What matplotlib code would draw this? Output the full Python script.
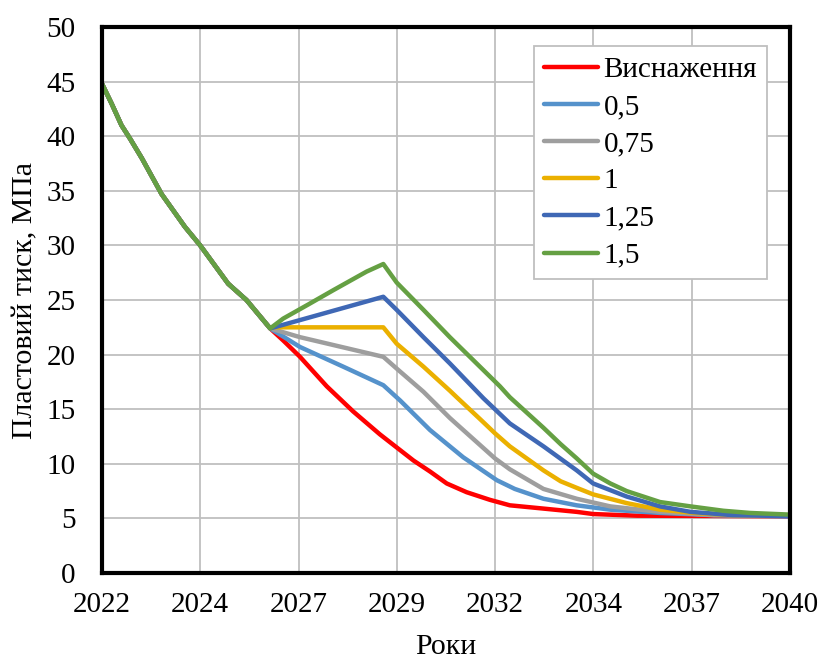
import matplotlib.pyplot as plt

plt.rcParams['font.family'] = ['Liberation Serif', 'DejaVu Serif']

# спільна ділянка (режим виснаження до початку закачування)
base_t = [2022.0, 2022.25, 2022.51, 2022.73, 2023.04, 2023.56, 2024.17, 2024.57, 2025.30, 2025.78, 2026.40]
base_p = [44.8, 43.0, 41.0, 39.8, 38.0, 34.7, 31.7, 30.0, 26.5, 25.0, 22.4]

red_t = [2026.40, 2026.74, 2027.18, 2027.88, 2028.57, 2029.27, 2029.71, 2030.15, 2030.58, 2031.02,
         2031.54, 2032.15, 2032.67, 2033.55, 2034.42, 2034.85, 2036.0, 2040.0]
red_p = [22.4, 21.3, 19.8, 17.1, 14.8, 12.7, 11.5, 10.3, 9.3, 8.2,
         7.4, 6.7, 6.2, 5.9, 5.6, 5.4, 5.25, 5.2]

lb_t = [2026.40, 2027.18, 2028.31, 2029.36, 2029.80, 2030.58, 2031.45, 2032.33, 2032.80, 2033.55,
        2034.42, 2035.30, 2036.60, 2038.0, 2040.0]
lb_p = [22.4, 20.7, 18.9, 17.2, 15.8, 13.1, 10.6, 8.5, 7.7, 6.8,
        6.2, 5.8, 5.5, 5.3, 5.2]

gray_t = [2026.40, 2027.18, 2029.36, 2029.75, 2030.41, 2031.10, 2031.45, 2032.28, 2032.67, 2033.55,
          2034.42, 2035.30, 2036.60, 2038.0, 2040.0]
gray_p = [22.4, 21.6, 19.8, 18.6, 16.6, 14.2, 13.1, 10.5, 9.5, 7.7,
          6.8, 6.1, 5.6, 5.3, 5.25]

yel_t = [2026.40, 2029.36, 2029.71, 2030.41, 2031.10, 2031.28, 2031.89, 2032.28, 2032.67, 2033.55,
         2034.0, 2034.42, 2034.85, 2035.73, 2036.60, 2037.5, 2038.5, 2040.0]
yel_p = [22.5, 22.5, 21.0, 18.9, 16.7, 16.1, 14.1, 12.8, 11.6, 9.4,
         8.4, 7.8, 7.2, 6.4, 5.8, 5.5, 5.3, 5.25]

blue_t = [2026.40, 2029.36, 2029.71, 2030.41, 2031.10, 2031.98, 2032.28, 2032.67, 2033.55, 2034.42,
          2034.85, 2035.73, 2036.60, 2037.4, 2038.5, 2040.0]
blue_p = [22.4, 25.3, 24.1, 21.6, 19.2, 16.0, 15.0, 13.7, 11.6, 9.4,
          8.2, 7.0, 6.1, 5.6, 5.3, 5.2]

green_t = [2026.40, 2026.74, 2027.40, 2028.05, 2028.92, 2029.36, 2029.71, 2030.41, 2031.10, 2032.41,
           2032.67, 2033.55, 2034.0, 2034.42, 2034.85, 2035.30, 2035.73, 2036.60, 2037.4, 2038.26,
           2038.96, 2040.0]
green_p = [22.4, 23.3, 24.6, 25.9, 27.6, 28.3, 26.6, 24.1, 21.6, 17.1,
           16.1, 13.3, 11.8, 10.5, 9.1, 8.2, 7.5, 6.5, 6.1, 5.7,
           5.5, 5.35]

labels = ['Виснаження', '0,5', '0,75', '1', '1,25', '1,5']
colors = ['#FF0000', '#5592CB', '#9E9E9E', '#EBB000', '#3F68B5', '#65A043']
series = [(red_t, red_p), (lb_t, lb_p), (gray_t, gray_p),
          (yel_t, yel_p), (blue_t, blue_p), (green_t, green_p)]

x_ticks = [2022 + i * 18 / 7 for i in range(8)]
x_labels = ['2022', '2024', '2027', '2029', '2032', '2034', '2037', '2040']

fig = plt.figure(figsize=(8.2, 6.6), dpi=100)
ax = fig.add_axes([0.1244, 0.1318, 0.839, 0.8272])

for (t, p), lab, c in zip(series, labels, colors):
    ax.plot(base_t + t, base_p + p, color=c, lw=3.2, label=lab, solid_capstyle='round')

ax.set_xlim(2022, 2040)
ax.set_ylim(0, 50)
ax.set_xticks(x_ticks)
ax.set_xticklabels(x_labels)
ax.set_yticks(range(0, 51, 5))
ax.tick_params(length=0, labelsize=21)
ax.tick_params(axis='x', pad=14)
ax.tick_params(axis='y', pad=19)
ax.grid(True, color='#BFBFBF', lw=1.3)
ax.set_axisbelow(True)
for s in ax.spines.values():
    s.set_linewidth(3)
    s.set_color('black')

ax.set_xlabel('Роки', fontsize=21.5, labelpad=11)
ax.set_ylabel('Пластовий тиск, МПа', fontsize=21.5, labelpad=6)

leg = ax.legend(loc='upper right', bbox_to_anchor=(0.967, 0.965), fontsize=21,
                frameon=True, fancybox=False, edgecolor='#BFBFBF', framealpha=1,
                handlelength=1.85, handletextpad=0.2, labelspacing=0.37, borderpad=0.35,
                borderaxespad=0)
leg.get_frame().set_linewidth(1.3)

fig.savefig('out.png', dpi=100)
